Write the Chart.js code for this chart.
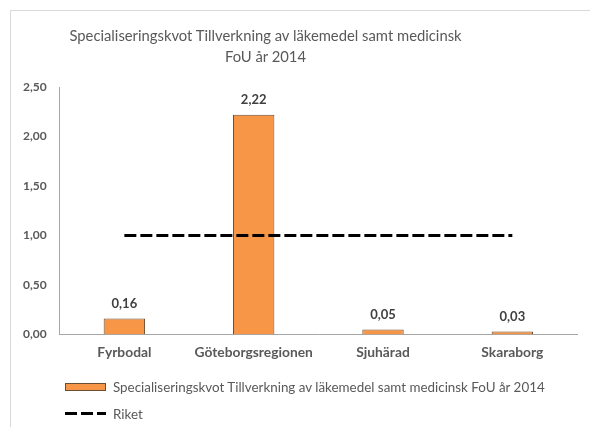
<!DOCTYPE html>
<html>
<head>
<meta charset="utf-8">
<script src="https://cdn.jsdelivr.net/npm/chart.js@4/dist/chart.umd.min.js"></script>
<style>
  body { margin: 0; background: #fff; }
  #wrap { position: relative; width: 590px; height: 427px; overflow: hidden; font-family: Lato, sans-serif; }
  #frame { position: absolute; left: 10px; top: 10px; width: 600px; height: 440px; border-top: 1px solid #d9d9d9; border-left: 1px solid #d9d9d9; }
  #chart { position: absolute; left: 0; top: 0; }
  #title { position: absolute; left: 0; top: 25px; width: 531px; text-align: center; font-size: 14.8px; line-height: 21px; color: #595959; }
  #legend { position: absolute; left: 65px; top: 373px; font-size: 13.4px; color: #595959; }
  .row { height: 27px; line-height: 20px; display: flex; align-items: center; }
  .row .key { width: 41px; margin-right: 7px; }
  .bar-key { height: 6px; background: #f79646; border: 1px solid #6b4e32; box-sizing: content-box; width: 39px !important; }
  .line-key { height: 3px; background: repeating-linear-gradient(90deg, #000 0 12px, transparent 12px 16px); }
</style>
</head>
<body>
<div id="wrap">
  <div id="frame"></div>
  <canvas id="chart" width="590" height="427"></canvas>
  <div id="title">Specialiseringskvot Tillverkning av läkemedel samt medicinsk<br>FoU år 2014</div>
  <div id="legend"></div>
</div>
<script>
const regions = ['Fyrbodal', 'Göteborgsregionen', 'Sjuhärad', 'Skaraborg'];
const kvot = [0.16, 2.22, 0.05, 0.03];
const riket = [1, 1, 1, 1];
const kvotLabel = 'Specialiseringskvot Tillverkning av läkemedel samt medicinsk FoU år 2014';
const riketLabel = 'Riket';
const yTicks = [0, 0.5, 1, 1.5, 2, 2.5];

const fmt = v => v.toFixed(2).replace('.', ',');

// value labels above the bars
const barValues = {
  id: 'barValues',
  afterDatasetsDraw(chart) {
    const ctx = chart.ctx;
    const meta = chart.getDatasetMeta(1);
    ctx.save();
    ctx.font = 'bold 13px Lato, sans-serif';
    ctx.fillStyle = '#404040';
    ctx.textAlign = 'center';
    ctx.textBaseline = 'middle';
    meta.data.forEach((bar, i) => {
      ctx.fillText(fmt(kvot[i]), bar.x, bar.y - 15);
    });
    ctx.restore();
  }
};

new Chart(document.getElementById('chart'), {
  data: {
    labels: regions,
    datasets: [
      {
        type: 'line',
        label: riketLabel,
        data: riket,
        borderColor: '#000',
        borderWidth: 3,
        borderDash: [12, 4],
        pointRadius: 0,
        fill: false,
        order: 0
      },
      {
        type: 'bar',
        label: kvotLabel,
        data: kvot,
        backgroundColor: '#f79646',
        borderColor: '#6b4e32',
        borderWidth: 1,
        barPercentage: 0.32,
        categoryPercentage: 1,
        order: 1
      }
    ]
  },
  options: {
    responsive: false,
    animation: false,
    layout: { padding: { top: 87, right: 13, bottom: 56, left: 10 } },
    plugins: {
      legend: { display: false },
      tooltip: { enabled: false }
    },
    scales: {
      x: {
        grid: { display: false, drawTicks: false },
        border: { display: true, color: '#a6a6a6', width: 1 },
        ticks: { color: '#595959', font: { family: 'Lato', size: 13.8, weight: 'bold' }, padding: 10 }
      },
      y: {
        min: 0,
        max: 2.5,
        afterBuildTicks: axis => { axis.ticks = yTicks.map(v => ({ value: v })); },
        grid: { display: false, drawTicks: false },
        border: { display: true, color: '#a6a6a6', width: 1 },
        ticks: { color: '#595959', font: { family: 'Lato', size: 12, weight: 'bold' }, padding: 13, callback: v => fmt(v) }
      }
    }
  },
  plugins: [barValues]
});

// legend below the plot, one entry per row
const legend = document.getElementById('legend');
[[kvotLabel, 'bar-key'], [riketLabel, 'line-key']].forEach(([text, cls]) => {
  const row = document.createElement('div');
  row.className = 'row';
  row.innerHTML = `<span class="key ${cls}"></span><span>${text}</span>`;
  legend.appendChild(row);
});
</script>
</body>
</html>
